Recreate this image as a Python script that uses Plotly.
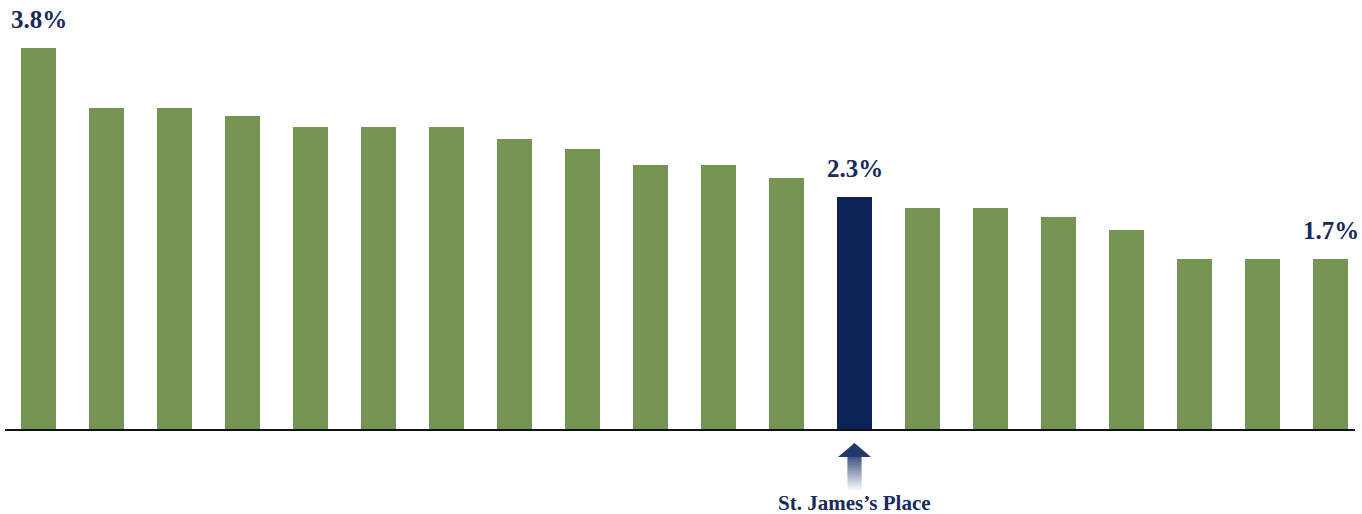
import plotly.graph_objects as go

# ---- data ----
categories = [f"Peer {i}" for i in range(1, 21)]
categories[12] = "St. James’s Place"
values = [3.80, 3.20, 3.20, 3.12, 3.01, 3.01, 3.01, 2.89, 2.79, 2.63,
          2.63, 2.50, 2.31, 2.20, 2.20, 2.11, 1.98, 1.70, 1.70, 1.70]
highlight_index = 12
labelled = {0: "3.8%", 12: "2.3%", 19: "1.7%"}
callout_text = "St. James’s Place"

GREEN = "#779552"
NAVY = "#0d2357"
TEXT_NAVY = "#172a5c"

W, H = 1362, 514
ML, MR, MT, MB = 5, 7, 0, 85
PLOT_H = H - MT - MB

xs = list(range(len(values)))
colors = [NAVY if i == highlight_index else GREEN for i in xs]

fig = go.Figure()
fig.add_trace(go.Bar(
    x=xs, y=values, marker=dict(color=colors, line=dict(width=0)),
    width=0.5147, hoverinfo="skip", customdata=categories,
))

font = dict(family="Liberation Serif", size=25, color=TEXT_NAVY)
for i, t in labelled.items():
    fig.add_annotation(x=xs[i], y=values[i], xref="x", yref="y", text=f"<b>{t}</b>",
                       showarrow=False, yanchor="bottom", yshift=13, font=font)

def py(p):  # pixel y -> paper y
    return (MT + PLOT_H - p) / PLOT_H

fig.add_annotation(x=xs[highlight_index], xref="x", y=py(503), yref="paper",
                   text=f"<b>{callout_text}</b>", showarrow=False, yanchor="middle",
                   font=dict(family="Liberation Serif", size=21, color=TEXT_NAVY))

# gradient arrow
def mix(c1, c2, t):
    a = [int(c1[k:k + 2], 16) for k in (1, 3, 5)]
    b = [int(c2[k:k + 2], 16) for k in (1, 3, 5)]
    return "#%02x%02x%02x" % tuple(round(a[j] + (b[j] - a[j]) * t) for j in range(3))

top_c, bot_c = "#23386c", "#f4f5f9"
shaft_top, shaft_bot = 456, 489
n = 22
step = (shaft_bot - shaft_top) / n
for k in range(n):
    y0 = shaft_top + k * step
    y1 = y0 + step + 0.6
    c = mix("#3a4e80", bot_c, (k + 0.5) / n)
    fig.add_shape(type="rect", xref="x", yref="paper", xsizemode="pixel", xanchor=xs[highlight_index],
                  x0=-7, x1=7, y0=py(y1), y1=py(y0), fillcolor=c, line=dict(width=0), layer="above")
fig.add_shape(type="path", xref="x", yref="paper", xsizemode="pixel", xanchor=xs[highlight_index],
              path=f"M -16.5,{py(457)} L 16.5,{py(457)} L 0,{py(443)} Z",
              fillcolor=top_c, line=dict(width=0), layer="above")

fig.update_layout(
    width=W, height=H, margin=dict(l=ML, r=MR, t=MT, b=MB),
    plot_bgcolor="white", paper_bgcolor="white", showlegend=False,
    xaxis=dict(range=[-0.4926, 19.360], showticklabels=False, showgrid=False, zeroline=False,
               showline=True, linecolor="#111111", linewidth=2, ticks=""),
    yaxis=dict(range=[0, 429 / 100.26], visible=False, showgrid=False, zeroline=False),
    bargap=0,
)
fig.write_html("out.html", config={"displayModeBar": False},
               post_script="document.body.style.margin='0';document.body.style.overflow='hidden';")
